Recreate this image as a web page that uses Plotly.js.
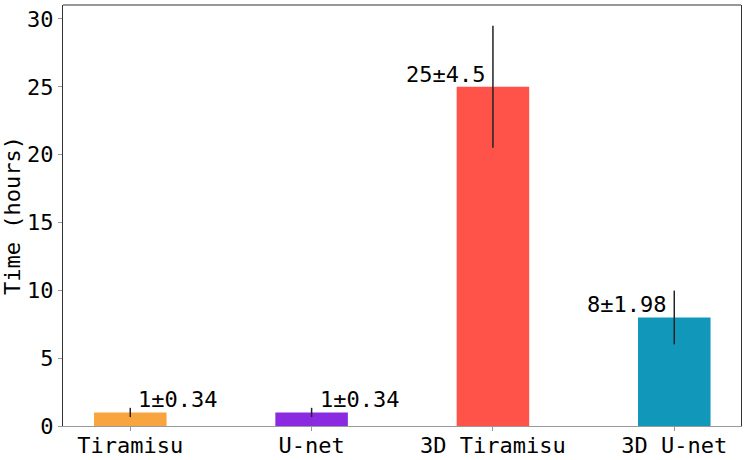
<!DOCTYPE html>
<html><head><meta charset="utf-8">
<script src="https://cdn.plot.ly/plotly-3.0.1.min.js"></script>
<style>html,body{margin:0;padding:0;background:#fff}</style>
</head><body><div id="c" style="width:747px;height:460px"></div>
<script>
const categories = ["Tiramisu", "U-net", "3D Tiramisu", "3D U-net"];
const times = [1, 1, 25, 8];
const errors = [0.34, 0.34, 4.5, 1.98];
const labels = ["1±0.34", "1±0.34", "25±4.5", "8±1.98"];
const colors = ["#F9A53F", "#8A2BE2", "#FF5349", "#1097BA"];
const labelSide = ["right", "right", "left", "left"];

const xs = categories.map((c, i) => i);
const font = {family: "DejaVu Sans Mono, monospace", size: 22, color: "#000"};

const trace = {
  type: "bar", x: xs, y: times, width: 0.4,
  marker: {color: colors, line: {width: 0}},
  error_y: {type: "data", array: errors, visible: true, color: "#222", thickness: 1.5, width: 0},
  hoverinfo: "none"
};

const annotations = xs.map((x, i) => ({
  x: x, y: times[i], xref: "x", yref: "y", text: labels[i], showarrow: false,
  xanchor: labelSide[i] === "right" ? "left" : "right", yanchor: "bottom",
  xshift: labelSide[i] === "right" ? 6 : -6, yshift: -2, font: font
}));

const layout = {
  width: 747, height: 460,
  margin: {l: 63, r: 6, t: 5, b: 34},
  paper_bgcolor: "#fff", plot_bgcolor: "#fff",
  showlegend: false, font: font,
  xaxis: {range: [-0.371, 3.368], tickvals: xs, ticktext: categories,
    showgrid: false, zeroline: false, showline: true, linecolor: "#999", linewidth: 1.2,
    ticks: "outside", ticklen: 4, tickcolor: "#999", tickfont: font, ticklabelstandoff: -5},
  yaxis: {range: [0, 31.03], tickvals: [0, 5, 10, 15, 20, 25, 30],
    showgrid: false, zeroline: false, showline: true, mirror: true, linecolor: "#333", linewidth: 1.2,
    ticks: "outside", ticklen: 4, tickcolor: "#999", tickfont: font,
    title: {text: "Time (hours)", font: font, standoff: 1}},
  shapes: [{type: "line", xref: "paper", yref: "paper", x0: 0, x1: 1, y0: 1, y1: 1, line: {color: "#333", width: 1.2}}],
  annotations: annotations
};
Plotly.newPlot("c", [trace], layout, {displayModeBar: false, staticPlot: true});
</script></body></html>
